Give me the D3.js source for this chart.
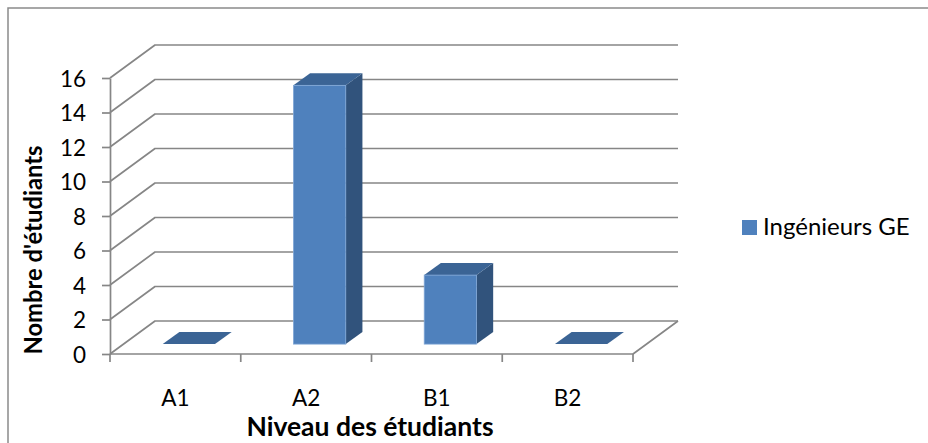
<!DOCTYPE html>
<html>
<head>
<meta charset="utf-8">
<script src="https://cdn.jsdelivr.net/npm/d3@7"></script>
<style>
  html, body { margin: 0; padding: 0; background: #fff; }
  svg { display: block; font-family: Lato, "Open Sans", sans-serif; }
</style>
</head>
<body>
<svg id="chart" width="928" height="443"></svg>
<script>
// Chart data
const categories = ["A1", "A2", "B1", "B2"];
const values = [0, 15, 4, 0];
const yTicks = [0, 2, 4, 6, 8, 10, 12, 14, 16];
const seriesName = "Ingénieurs GE";
const xTitle = "Niveau des étudiants";
const yTitle = "Nombre d'étudiants";

const svg = d3.select("#chart");

// Oblique 3D projection: depth offset of the back wall
const depthX = 45, depthY = -33;
const barDepth0 = 0.30, barDepth1 = 0.67;   // bar position within depth
const barWidthFrac = 0.40;

const x = d3.scaleBand().domain(categories).range([110, 633]).padding(0);
const y = d3.scaleLinear().domain([0, 16]).range([354, 78]);

const gridColor = "#868686";
const frontColor = "#4F81BD", topColor = "#3B6495", sideColor = "#31537C";

// Outer frame
svg.append("path")
  .attr("d", "M8,443 L8,8 L928,8")
  .attr("fill", "none").attr("stroke", "#8a8a8a").attr("stroke-width", 1.5);

// Grid: diagonal on the side wall plus horizontal on the back wall
const [x0, x1] = x.range();
const grid = svg.append("g").attr("fill", "none").attr("stroke", gridColor)
  .attr("stroke-width", 1.7).attr("stroke-linejoin", "round");
grid.selectAll("path.grid").data(yTicks).join("path")
  .attr("class", "grid")
  .attr("d", v => `M${x0},${y(v)} L${x0 + depthX},${y(v) + depthY} L${x1 + depthX},${y(v) + depthY}`);
// Floor: front edge and right edge
grid.append("path")
  .attr("d", `M${x0},${y(0)} L${x1},${y(0)} L${x1 + depthX},${y(0) + depthY}`);

// Y axis
const yAxis = d3.axisLeft(y).tickValues(yTicks).tickSize(8).tickPadding(16).tickSizeOuter(0);
const gy = svg.append("g").attr("transform", `translate(${x0},0)`).call(yAxis);
gy.select(".domain").attr("stroke", gridColor).attr("stroke-width", 1.7);
gy.selectAll(".tick line").attr("stroke", gridColor).attr("stroke-width", 1.7);
gy.selectAll(".tick text").attr("font-size", 22.5).attr("fill", "#000")
  .attr("font-family", "Lato, sans-serif").attr("dy", "0.36em");

// X axis tick marks at category boundaries
const boundaries = categories.map(c => x(c)).concat([x1]);
svg.append("g").selectAll("line").data(boundaries).join("line")
  .attr("x1", d => d).attr("x2", d => d)
  .attr("y1", y(0)).attr("y2", y(0) + 8)
  .attr("stroke", gridColor).attr("stroke-width", 1.7);

// Category labels
svg.append("g").selectAll("text").data(categories).join("text")
  .attr("x", d => x(d) + x.bandwidth() / 2)
  .attr("y", 406)
  .attr("text-anchor", "middle")
  .attr("font-size", 22.5)
  .attr("fill", "#000")
  .text(d => d);

// Bars as oblique boxes
const bw = x.bandwidth();
const bars = categories.map((c, i) => {
  const fx = x(c) + bw * (0.5 - barWidthFrac / 2) + barDepth0 * depthX;
  const fr = fx + bw * barWidthFrac;
  const yb = y(0) + barDepth0 * depthY;
  const yt = y(values[i]) + barDepth0 * depthY;
  const ddx = (barDepth1 - barDepth0) * depthX;
  const ddy = (barDepth1 - barDepth0) * depthY;
  return { c, v: values[i], fx, fr, yb, yt, ddx, ddy };
});
const pts = a => a.map(p => p.join(",")).join(" ");
const gb = svg.append("g");
const bar = gb.selectAll("g.bar").data(bars).join("g").attr("class", "bar");
bar.filter(d => d.v > 0).append("polygon")
  .attr("points", d => pts([[d.fr, d.yt], [d.fr, d.yb], [d.fr + d.ddx, d.yb + d.ddy], [d.fr + d.ddx, d.yt + d.ddy]]))
  .attr("fill", sideColor);
bar.append("polygon")
  .attr("points", d => pts([[d.fx, d.yt], [d.fr, d.yt], [d.fr + d.ddx, d.yt + d.ddy], [d.fx + d.ddx, d.yt + d.ddy]]))
  .attr("fill", topColor);
bar.filter(d => d.v > 0).append("rect")
  .attr("x", d => d.fx).attr("y", d => d.yt)
  .attr("width", d => d.fr - d.fx).attr("height", d => d.yb - d.yt)
  .attr("fill", frontColor)
  .attr("stroke", "#7fa6d6").attr("stroke-width", 0.8);

// Legend
const lg = svg.append("g");
lg.append("rect").attr("x", 742).attr("y", 220).attr("width", 15).attr("height", 15).attr("fill", frontColor);
lg.append("text").attr("x", 763).attr("y", 235).attr("font-size", 24).attr("fill", "#000").text(seriesName);

// Axis titles
svg.append("text")
  .attr("x", 370).attr("y", 436)
  .attr("text-anchor", "middle").attr("font-weight", "bold").attr("font-size", 26.5)
  .attr("fill", "#000").text(xTitle);
svg.append("text")
  .attr("transform", "translate(42,250) rotate(-90)")
  .attr("text-anchor", "middle").attr("font-weight", "bold").attr("font-size", 23.8)
  .attr("fill", "#000").text(yTitle);
</script>
</body>
</html>
